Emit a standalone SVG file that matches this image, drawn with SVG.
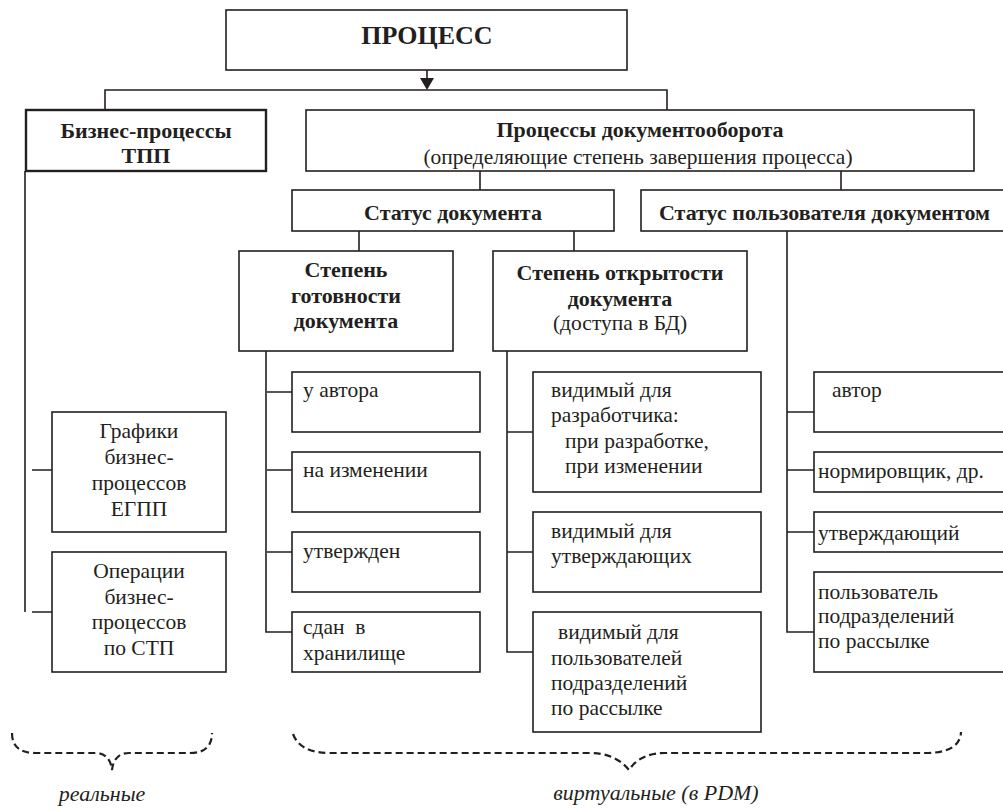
<svg xmlns="http://www.w3.org/2000/svg" width="1003" height="811" viewBox="0 0 1003 811" font-family="'Liberation Serif', 'Times New Roman', serif">
<style>
.b{fill:#fff;stroke:#231f20;stroke-width:1.6}
.bb{fill:#fff;stroke:#231f20;stroke-width:2.4}
.c{fill:none;stroke:#231f20;stroke-width:1.6}
.d{fill:none;stroke:#231f20;stroke-width:2.2;stroke-dasharray:7 4}
text{font-family:'Liberation Serif','Times New Roman',serif;fill:#231f20;font-size:21.5px}
.t{font-weight:bold;font-size:22px}
.m{text-anchor:middle}
.i{font-style:italic;font-size:22px}
</style>
<rect width="1003" height="811" fill="#fff"/>
<g id="connectors">
<path class="c" d="M427 70V80"/>
<polygon points="420,78 434,78 427,90" fill="#231f20"/>
<path class="c" d="M105 110V90H667V110"/>
<path class="c" d="M480 171V190M841 171V190"/>
<path class="c" d="M359 231V251M574 231V251"/>
<path class="c" d="M25 171V612M32 470H52M32 612H52"/>
<path class="c" d="M266 351V632H292M267 392H292M267 470H292M267 552H292"/>
<path class="c" d="M507 351V652H533M507 432H533M507 552H533"/>
<path class="c" d="M787 231V632H814M787 412H814M787 470H814M787 532H814"/>
</g>
<g id="n-process"><rect class="b" x="226" y="10" width="401" height="60"/><text class="m" x="427" y="44" style="font-weight:bold;font-size:26px">ПРОЦЕСС</text></g>
<g id="n-biz"><rect class="bb" x="26" y="110" width="240" height="61"/><text class="t m" x="146" y="138">Бизнес-процессы</text><text class="t m" x="146" y="163">ТПП</text></g>
<g id="n-docflow"><rect class="b" x="306" y="110" width="668" height="61"/><text class="t m" x="640" y="137">Процессы документооборота</text><text class="m" x="638" y="164">(определяющие степень завершения процесса)</text></g>
<g id="n-docstatus"><rect class="b" x="292" y="190" width="322" height="41"/><text class="t m" x="453" y="220">Статус документа</text></g>
<g id="n-userstatus"><rect class="b" x="641" y="190" width="380" height="41"/><text class="t" x="659" y="220">Статус пользователя документом</text></g>
<g id="n-ready"><rect class="b" x="239" y="251" width="214" height="100"/><text class="t m" x="346" y="277">Степень</text><text class="t m" x="346" y="303">готовности</text><text class="t m" x="346" y="328">документа</text></g>
<g id="n-open"><rect class="b" x="493" y="251" width="254" height="100"/><text class="t m" x="620" y="280">Степень открытости</text><text class="t m" x="620" y="306">документа</text><text class="m" x="620" y="330">(доступа в БД)</text></g>
<g id="n-graphs"><rect class="b" x="52" y="412" width="174" height="120"/><text class="m" x="139" y="438">Графики</text><text class="m" x="139" y="464">бизнес-</text><text class="m" x="139" y="490">процессов</text><text class="m" x="139" y="516">ЕГПП</text></g>
<g id="n-ops"><rect class="b" x="52" y="552" width="174" height="120"/><text class="m" x="139" y="578">Операции</text><text class="m" x="139" y="604">бизнес-</text><text class="m" x="139" y="629">процессов</text><text class="m" x="139" y="655">по СТП</text></g>
<g id="n-author1"><rect class="b" x="292" y="372" width="188" height="60"/><text x="303" y="397">у автора</text></g>
<g id="n-change"><rect class="b" x="292" y="452" width="188" height="60"/><text x="303" y="477">на изменении</text></g>
<g id="n-approved"><rect class="b" x="292" y="532" width="188" height="60"/><text x="303" y="558">утвержден</text></g>
<g id="n-stored"><rect class="b" x="292" y="612" width="188" height="60"/><text x="303" y="634" xml:space="preserve">сдан  в</text><text x="303" y="660">хранилище</text></g>
<g id="n-vis-dev"><rect class="b" x="533" y="372" width="228" height="120"/><text x="551" y="397">видимый для</text><text x="551" y="422">разработчика:</text><text x="565" y="448">при разработке,</text><text x="565" y="473">при изменении</text></g>
<g id="n-vis-appr"><rect class="b" x="533" y="512" width="228" height="80"/><text x="551" y="538">видимый для</text><text x="551" y="563">утверждающих</text></g>
<g id="n-vis-users"><rect class="b" x="533" y="612" width="228" height="120"/><text x="558" y="639">видимый для</text><text x="551" y="665">пользователей</text><text x="551" y="690">подразделений</text><text x="551" y="715">по рассылке</text></g>
<g id="n-author2"><rect class="b" x="814" y="372" width="210" height="60"/><text x="832" y="397">автор</text></g>
<g id="n-norm"><rect class="b" x="814" y="452" width="210" height="40"/><text x="818" y="478">нормировщик, др.</text></g>
<g id="n-approver"><rect class="b" x="814" y="512" width="210" height="40"/><text x="818" y="540">утверждающий</text></g>
<g id="n-user"><rect class="b" x="814" y="572" width="210" height="100"/><text x="818" y="599">пользователь</text><text x="818" y="623">подразделений</text><text x="818" y="648">по рассылке</text></g>
<g id="braces">
<path class="d" d="M12 733Q12 753 35 753H95Q110 753 112 770Q114 753 129 753H190Q212 753 212 733"/>
<path class="d" d="M293 734Q300 753 330 753H590Q615 753 629 770Q640 753 665 753H925Q960 753 961 732"/>
</g>
<text class="i" x="102" y="801" text-anchor="middle">реальные</text>
<text class="i" x="656" y="800" text-anchor="middle">виртуальные (в PDM)</text>
</svg>
